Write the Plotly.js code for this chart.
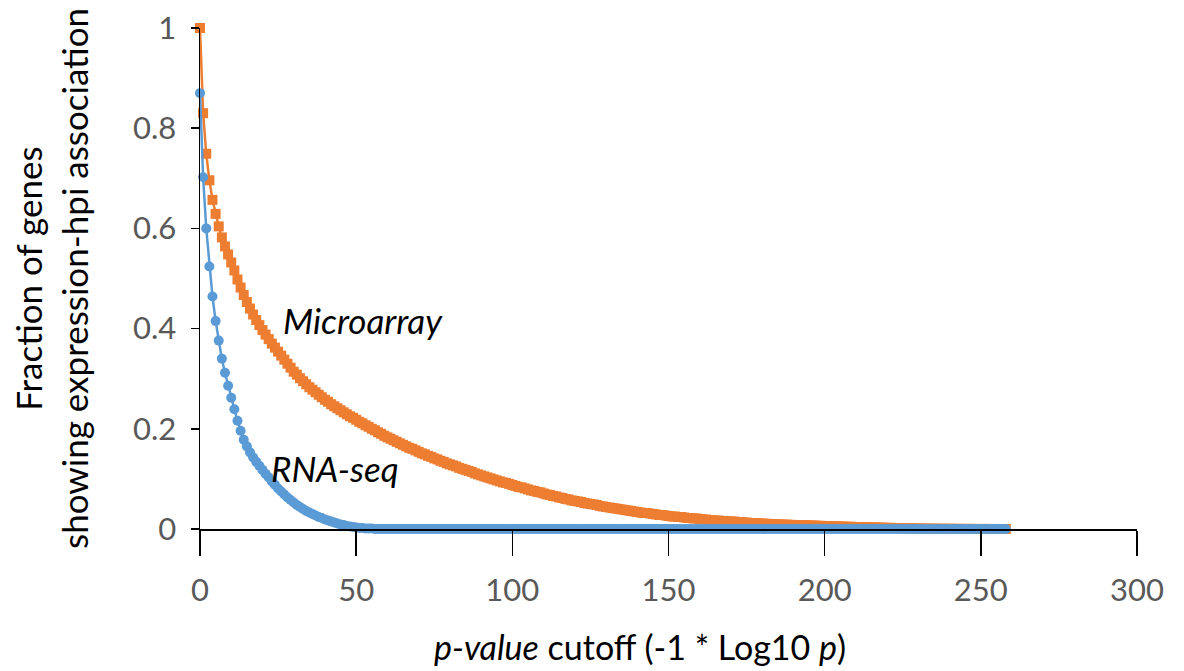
<!DOCTYPE html>
<html>
<head>
<meta charset="utf-8">
<script src="https://cdn.plot.ly/plotly-3.0.1.min.js"></script>
<style>html,body{margin:0;padding:0;background:#fff;}#chart{width:1184px;height:671px;}</style>
</head>
<body>
<div id="chart"></div>
<script>
// p-value cutoff (-1 * Log10 p)
var cutoff = [
0,1,2,3,4,5,6,7,8,9,10,11,12,13,14,15,16,17,18,19,20,21,22,23,24,25,26,27,28,29,
30,31,32,33,34,35,36,37,38,39,40,41,42,43,44,45,46,47,48,49,50,51,52,53,54,55,56,57,58,59,
60,61,62,63,64,65,66,67,68,69,70,71,72,73,74,75,76,77,78,79,80,81,82,83,84,85,86,87,88,89,
90,91,92,93,94,95,96,97,98,99,100,101,102,103,104,105,106,107,108,109,110,111,112,113,114,115,116,117,118,119,
120,121,122,123,124,125,126,127,128,129,130,131,132,133,134,135,136,137,138,139,140,141,142,143,144,145,146,147,148,149,
150,151,152,153,154,155,156,157,158,159,160,161,162,163,164,165,166,167,168,169,170,171,172,173,174,175,176,177,178,179,
180,181,182,183,184,185,186,187,188,189,190,191,192,193,194,195,196,197,198,199,200,201,202,203,204,205,206,207,208,209,
210,211,212,213,214,215,216,217,218,219,220,221,222,223,224,225,226,227,228,229,230,231,232,233,234,235,236,237,238,239,
240,241,242,243,244,245,246,247,248,249,250,251,252,253,254,255,256,257,258
];

// Microarray fraction
var microarray = [
1.000,0.830,0.749,0.696,0.657,0.629,0.604,0.582,0.564,0.548,
0.532,0.516,0.498,0.482,0.467,0.453,0.440,0.428,0.417,0.407,
0.397,0.388,0.379,0.370,0.362,0.354,0.346,0.338,0.330,0.322,
0.314,0.308,0.301,0.295,0.289,0.283,0.278,0.273,0.268,0.263,
0.258,0.254,0.249,0.245,0.241,0.237,0.233,0.229,0.225,0.222,
0.218,0.214,0.211,0.207,0.204,0.200,0.197,0.193,0.190,0.186,
0.183,0.180,0.177,0.174,0.171,0.168,0.165,0.162,0.160,0.157,
0.154,0.151,0.149,0.146,0.144,0.141,0.139,0.136,0.134,0.131,
0.129,0.127,0.125,0.122,0.120,0.118,0.116,0.114,0.111,0.109,
0.107,0.105,0.103,0.101,0.099,0.097,0.095,0.093,0.092,0.090,
0.088,0.086,0.084,0.083,0.081,0.079,0.077,0.076,0.074,0.073,
0.071,0.069,0.068,0.066,0.065,0.063,0.062,0.060,0.059,0.057,
0.056,0.055,0.054,0.052,0.051,0.050,0.049,0.048,0.046,0.045,
0.044,0.043,0.042,0.041,0.040,0.039,0.038,0.037,0.036,0.035,
0.034,0.033,0.032,0.032,0.031,0.030,0.029,0.028,0.028,0.027,
0.026,0.025,0.025,0.024,0.024,0.023,0.022,0.022,0.021,0.021,
0.020,0.019,0.019,0.018,0.018,0.017,0.017,0.016,0.016,0.015,
0.015,0.015,0.014,0.014,0.013,0.013,0.012,0.012,0.012,0.011,
0.011,0.0105,0.0102,0.0099,0.0096,0.0093,0.0091,0.0088,0.0086,0.0083,
0.0081,0.0079,0.0077,0.0075,0.0073,0.0071,0.0069,0.0067,0.0065,0.0062,
0.0060,0.0058,0.0056,0.0054,0.0052,0.0050,0.0048,0.0046,0.0044,0.0042,
0.0040,0.0038,0.0037,0.0035,0.0034,0.0032,0.0030,0.0029,0.0027,0.0026,
0.0024,0.0022,0.0021,0.0019,0.0018,0.0016,0.0015,0.0014,0.0012,0.0011,
0.0010,0.0009,0.0008,0.0007,0.0007,0.0006,0.0006,0.0005,0.0005,0.0004,
0.0004,0.0004,0.0003,0.0003,0.0002,0.0002,0.0002,0.0002,0.0001,0.0001,
0.0001,0.0001,0.0001,0.0001,0,0,0,0,0
];

// RNA-seq fraction
var rnaseq = [
0.870,0.702,0.600,0.524,0.464,0.415,0.376,0.340,0.312,0.286,
0.262,0.239,0.216,0.196,0.178,0.165,0.153,0.143,0.134,0.126,
0.118,0.110,0.103,0.095,0.088,0.081,0.075,0.069,0.063,0.058,
0.053,0.048,0.044,0.040,0.036,0.033,0.030,0.027,0.024,0.022,
0.019,0.017,0.015,0.013,0.011,0.009,0.008,0.006,0.005,0.004,
0.003,0.002,0.002,0.001,0.001,0.001,0,0,0,0,
0,0,0,0,0,0,0,0,0,0,0,0,0,0,0,0,0,0,0,0,
0,0,0,0,0,0,0,0,0,0,0,0,0,0,0,0,0,0,0,0,
0,0,0,0,0,0,0,0,0,0,0,0,0,0,0,0,0,0,0,0,
0,0,0,0,0,0,0,0,0,0,0,0,0,0,0,0,0,0,0,0,
0,0,0,0,0,0,0,0,0,0,0,0,0,0,0,0,0,0,0,0,
0,0,0,0,0,0,0,0,0,0,0,0,0,0,0,0,0,0,0,0,
0,0,0,0,0,0,0,0,0,0,0,0,0,0,0,0,0,0,0,0,
0,0,0,0,0,0,0,0,0,0,0,0,0,0,0,0,0,0,0,0,
0,0,0,0,0,0,0,0,0,0,0,0,0,0,0,0,0,0,0,0,
0,0,0,0,0,0,0,0,0,0,0,0,0,0,0,0,0,0,0
];

var xTickVals = [0, 50, 100, 150, 200, 250, 300];
var yTickVals = [0, 0.2, 0.4, 0.6, 0.8, 1];
var xTitle = '<i>p-value</i> cutoff (-1 * Log10 <i>p</i>)';
var yTitle = 'Fraction of genes<br>showing expression-hpi association';

var FONT = 'Lato, "Open Sans", sans-serif';

var traces = [
  {
    x: cutoff, y: microarray, name: 'Microarray', type: 'scatter', mode: 'lines+markers',
    line: {color: '#ED7D31', width: 2.5},
    marker: {symbol: 'square', size: 10, color: '#ED7D31'},
    cliponaxis: false, showlegend: false
  },
  {
    x: cutoff, y: rnaseq, name: 'RNA-seq', type: 'scatter', mode: 'lines+markers',
    line: {color: '#5B9BD5', width: 2.5},
    marker: {symbol: 'circle', size: 10, color: '#5B9BD5'},
    cliponaxis: false, showlegend: false
  }
];

var layout = {
  width: 1184, height: 671,
  margin: {l: 200, r: 47, t: 28, b: 142},
  paper_bgcolor: '#fff', plot_bgcolor: '#fff',
  font: {family: FONT, size: 31, color: '#000'},
  xaxis: {
    range: [0, 300], tickvals: xTickVals, showgrid: false, zeroline: false,
    showline: true, linecolor: '#000', linewidth: 1.5,
    ticks: 'outside', ticklen: 25, tickwidth: 1.5, tickcolor: '#000',
    tickfont: {family: FONT, size: 31, color: '#595959'},
    ticklabelstandoff: 8
  },
  yaxis: {
    range: [0, 1], tickvals: yTickVals, showgrid: false, zeroline: false,
    showline: true, linecolor: '#000', linewidth: 1.5,
    ticks: 'outside', ticklen: 8, tickwidth: 1.5, tickcolor: '#000',
    tickfont: {family: FONT, size: 31, color: '#595959'},
    ticklabelstandoff: 8,
    title: {text: yTitle, font: {family: FONT, size: 35, color: '#000'}, standoff: 34}
  },
  annotations: [
    {x: 0.4696, y: -0.234, xref: 'paper', yref: 'paper', xanchor: 'center', yanchor: 'middle',
     text: xTitle, showarrow: false, font: {family: FONT, size: 34, color: '#000'}},
    {x: 52.2, y: 0.417, xref: 'x', yref: 'y', text: '<i>Microarray</i>', showarrow: false,
     font: {family: FONT, size: 35, color: '#000'}},
    {x: 43.2, y: 0.121, xref: 'x', yref: 'y', text: '<i>RNA-seq</i>', showarrow: false,
     font: {family: FONT, size: 35, color: '#000'}}
  ]
};

Plotly.newPlot('chart', traces, layout, {displayModeBar: false, staticPlot: true});
</script>
</body>
</html>
